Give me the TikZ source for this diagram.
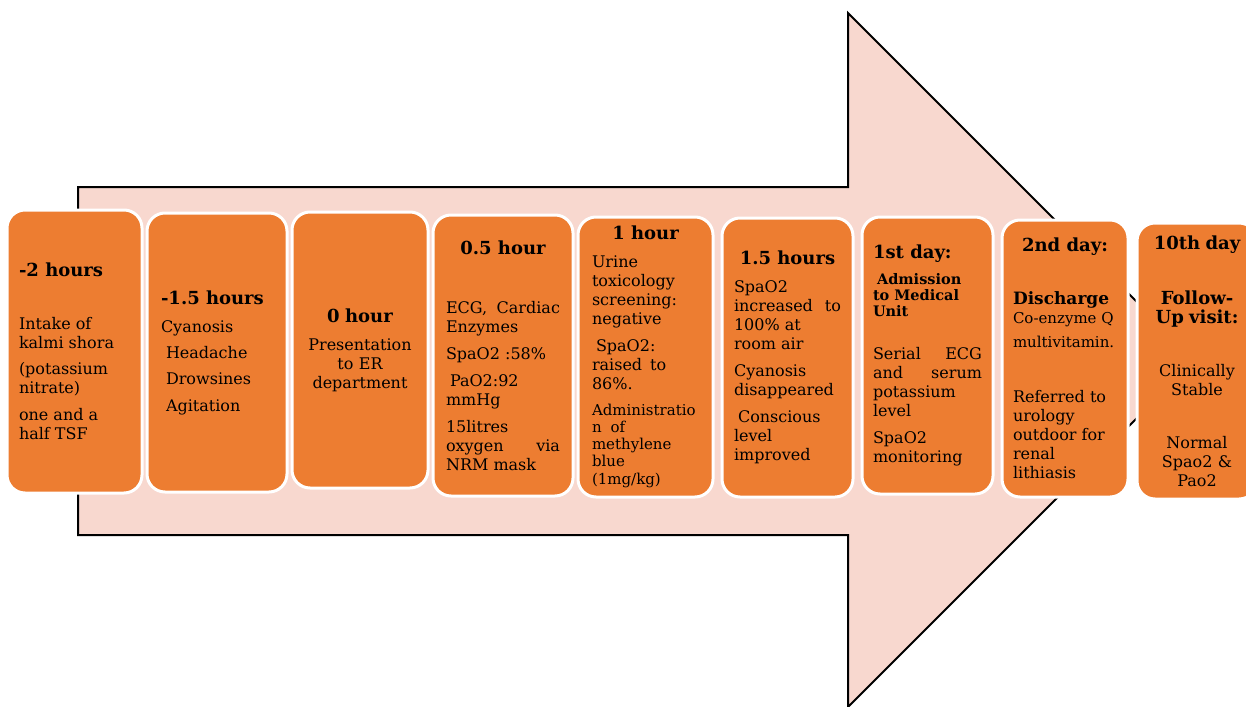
\documentclass[tikz,border=0pt]{standalone}
\usepackage{fontspec}
\setmainfont{DejaVu Serif}
\usetikzlibrary{positioning}
\definecolor{arrowpink}{HTML}{F8D8CF}
\definecolor{stageorange}{HTML}{ED7D31}
\newcommand{\ctrline}[1]{\hspace*{\fill}#1\hspace*{\fill}\mbox{}}
\newcommand{\stagehead}[1]{{\fontsize{18}{19}\selectfont\bfseries #1}}

\begin{document}
\begin{tikzpicture}[x=1pt,y=-1pt,
  stagebox/.style={draw=white,line width=3pt,fill=stageorange,rounded corners=18pt,inner sep=0pt,outer sep=0pt,align=flush left,font=\fontsize{16}{19}\selectfont}]
\useasboundingbox (0,0) rectangle (1246,706);
\clip (0,0) rectangle (1246,706);
\draw[fill=arrowpink,line width=2pt] (78,187) -- (848,187) -- (848,13) -- (1195,360) -- (848,707) -- (848,535) -- (78,535) -- cycle;
\node[stagebox,minimum width=135pt,minimum height=283pt,text width=111pt] (minustwo) at (74.5,351.5) {\stagehead{-2 hours}\\[34pt] Intake of\\ kalmi shora\\[7pt] (potassium\\ nitrate)\\[8pt] one and a\\ half TSF};
\node[stagebox,minimum width=140pt,minimum height=279pt,text width=112pt,right=5pt of minustwo,yshift=-1pt] (minusonehalf) {\stagehead{-1.5 hours}\\[9pt] Cyanosis\\[7pt] \hspace*{5pt}Headache\\[7pt] \hspace*{5pt}Drowsines\\[8pt] \hspace*{5pt}Agitation};
\node[stagebox,minimum width=136pt,minimum height=276pt,text width=116pt,align=center,right=5pt of minusonehalf,yshift=2.5pt] (zero) {\stagehead{0 hour}\\[9pt] Presentation\\ to ER\\ department};
\node[stagebox,minimum width=140pt,minimum height=281pt,text width=114pt,right=5pt of zero,yshift=-5.5pt] (half) {\ctrline{\stagehead{0.5 hour}}\\[40pt] ECG,\hspace{\fill}Cardiac\\ Enzymes\\[8pt] SpaO2 :58\%\\[8pt] \hspace*{4pt}PaO2:92\\ mmHg\\[8pt] 15litres\\ oxygen\hspace{\fill}via\\ NRM mask};
\node[stagebox,minimum width=135pt,minimum height=280pt,text width=107pt,right=5pt of half,yshift=-1.5pt] (one) {\ctrline{\stagehead{1 hour}}\\[9pt] Urine\\ toxicology\\ screening:\\ negative\\[8pt] \hspace*{4pt}SpaO2:\\ raised\hspace{0.5em}to\\ 86\%.\\[8pt] {\fontsize{15}{18}\selectfont Administratio\\[-1pt] n\hspace{0.6em}of\\[-1pt] methylene\\[-1pt] blue\\[-1pt] (1mg/kg)}};
\node[stagebox,minimum width=131pt,minimum height=279pt,text width=107pt,right=9pt of one,yshift=-0.5pt] (onehalf) {\ctrline{\stagehead{1.5 hours}}\\[9pt] SpaO2\\ increased\hspace{\fill}to\\ 100\% at\\ room air\\[8pt] Cyanosis\\ disappeared\\[8pt] \hspace*{4pt}Conscious\\ level\\ improved};
\node[stagebox,minimum width=131pt,minimum height=277pt,text width=109pt,right=9pt of onehalf,yshift=2pt] (dayone) {\stagehead{1st day:}\\[7pt] \parbox[t]{109pt}{\fontsize{14.5}{16}\selectfont\bfseries\raggedright \hspace*{4pt}Admission\\ to Medical\\ Unit}\\[30pt] Serial\hspace{\fill}ECG\\ and\hspace{\fill}serum\\ potassium\\ level\\[8pt] SpaO2\\ monitoring};
\node[stagebox,minimum width=126pt,minimum height=277pt,text width=104pt,right=9pt of dayone,yshift=-3pt] (daytwo) {\ctrline{\stagehead{2nd day:}}\\[34pt] {\fontsize{17}{19}\selectfont\bfseries Discharge}\\ {\fontsize{15}{19}\selectfont Co-enzyme Q}\\[5pt] {\fontsize{15}{19}\selectfont multivitamin.}\\[36pt] Referred to\\ urology\\ outdoor for\\ renal\\ lithiasis};
\node[stagebox,minimum width=120pt,minimum height=276pt,text width=104pt,align=center,right=9pt of daytwo,yshift=-2.5pt] (dayten) {\stagehead{10th day}\\[36pt] \stagehead{Follow-}\\ \stagehead{Up visit:}\\[34pt] Clinically\\ Stable\\[34pt] Normal\\ Spao2 \&\\ Pao2};
\end{tikzpicture}
\end{document}
